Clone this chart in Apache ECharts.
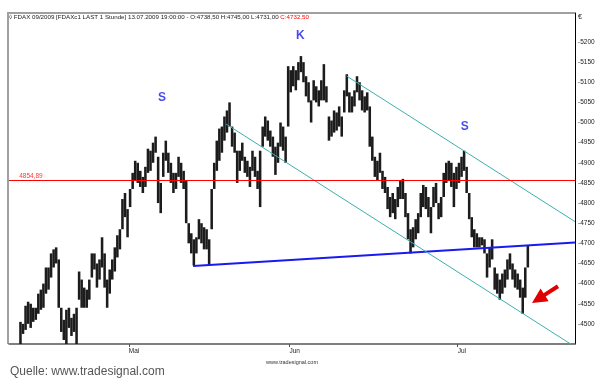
<!DOCTYPE html>
<html><head><meta charset="utf-8">
<script src="https://cdn.jsdelivr.net/npm/echarts@6/dist/echarts.min.js"></script>
<style>html,body{margin:0;padding:0;background:#fff}#c{width:612px;height:381px}</style>
</head><body><div id="c"></div>
<script>
// Slot = one third of a trading day (hourly FDAX bars grouped), April 2009 - 13.07.2009
const monthNames = ['Mai', 'Jun', 'Jul'];
const monthSlots = [47, 110, 176];
const yTicks = [4500, 4550, 4600, 4650, 4700, 4750, 4800, 4850, 4900, 4950, 5000, 5050, 5100, 5150, 5200];
const high = [4440,4445,4440,4448,4505,4500,4545,4555,4550,4540,4540,4575,4585,4600,4640,4640,4675,4685,4690,4660,
4540,4510,4535,4540,4515,4525,4540,4630,4610,4590,4585,4610,4675,4675,4650,4660,4715,4675,4610,4635,
4660,4690,4720,4735,4810,4825,4785,4835,4875,4905,4900,4880,4865,4890,4935,4930,4950,4965,4915,4850,
4925,4955,4925,4900,4875,4875,4915,4900,4880,4855,4750,4725,4710,4715,4760,4750,4740,4735,4710,4835,
4900,4955,4985,4990,5015,5030,5050,4990,4975,4930,4930,4950,4915,4905,4890,4930,4915,4880,4930,4990,
5015,5005,4980,4965,4940,4950,5000,4990,4965,5140,5130,5140,5130,5150,5165,5150,5115,5100,5055,5105,
5090,5080,5105,5145,5090,5015,5005,5030,5025,5040,5015,5080,5120,5075,5065,5080,5115,5100,5080,5065,
5075,5040,4965,4915,4905,4925,4880,4865,4840,4815,4825,4810,4840,4855,4860,4825,4775,4735,4740,4760,
4775,4825,4845,4840,4815,4790,4840,4850,4800,4815,4875,4900,4905,4900,4875,4890,4900,4915,4930,4890,
4825,4765,4735,4725,4715,4715,4710,4675,4690,4710,4640,4625,4610,4625,4635,4660,4675,4650,4635,4625,
4610,4590,4640,4695];
const low = [4410,4415,4405,4420,4450,4475,4485,4500,4490,4505,4510,4525,4535,4540,4575,4585,4615,4640,4650,4540,
4480,4460,4450,4490,4470,4480,4450,4560,4540,4540,4540,4560,4615,4635,4590,4610,4640,4590,4540,4575,
4610,4630,4665,4685,4735,4765,4715,4790,4835,4855,4850,4840,4825,4840,4875,4880,4900,4925,4800,4775,
4865,4905,4875,4850,4825,4835,4865,4850,4835,4750,4700,4675,4645,4675,4710,4700,4685,4685,4645,4735,
4835,4880,4905,4925,4955,4975,4990,4940,4925,4850,4880,4905,4875,4865,4840,4880,4865,4835,4790,4940,
4965,4955,4940,4915,4870,4900,4940,4930,4900,4990,5075,5090,5080,5105,5125,5100,5065,5050,5000,5055,
5050,5040,5055,5055,5050,4955,4965,4975,4980,4990,4965,5025,5065,5025,5025,5040,5075,5055,5030,5025,
5030,4940,4905,4865,4855,4875,4835,4825,4785,4765,4775,4760,4790,4810,4810,4765,4710,4675,4690,4710,
4725,4765,4790,4785,4765,4725,4790,4800,4760,4765,4815,4850,4855,4840,4790,4835,4850,4865,4880,4825,
4760,4715,4690,4690,4690,4695,4675,4615,4640,4660,4585,4575,4560,4575,4590,4610,4635,4610,4590,4585,
4565,4525,4565,4640];
const redLevel = 4854.89;
const redLabel = '4854,89';
const necklineX = [72.2, 222], necklineY = [4644, 4702];
const upperX = [132.4, 222], upperY = [5115.6, 4753.9];
const lowerX = [85.1, 220.8], lowerY = [4996.4, 4447.9];
const markNames = ['S', 'K', 'S'];
const markX = [60, 114.3, 178.8];
const markY = [5062, 5215, 4990];

const bars = high.map((h, i) => [i + 0.5, h, low[i]]);
const pts = (xs, ys) => xs.map((x, i) => [x, ys[i]]);

const chart = echarts.init(document.getElementById('c'), null, {renderer: 'canvas'});
const FONT = 'Liberation Sans';
const baseGraphics = [
  {id: 'top', type: 'line', shape: {x1: 8, y1: 13, x2: 575, y2: 13}, style: {stroke: '#a0a0a0', lineWidth: 2}},
  {id: 'left', type: 'line', shape: {x1: 8, y1: 12, x2: 8, y2: 344}, style: {stroke: '#a0a0a0', lineWidth: 2}},
  {id: 'hdr', type: 'text', left: 9, top: 14, style: {
    text: '{a|◊ FDAX 09/2009 [FDAXc1 LAST 1 Stunde] 13.07.2009 19:00:00 - O:4738,50 H:4745,00 L:4731,00 }{b|C:4732,50}',
    rich: {a: {fill: '#222', fontSize: 6.2, fontFamily: FONT}, b: {fill: '#ff0000', fontSize: 6.2, fontFamily: FONT}}}},
  {id: 'eur', type: 'text', left: 578, top: 14, style: {text: '€', fill: '#222', fontSize: 7, fontFamily: FONT}},
  {id: 'arrow', type: 'polygon', z: 100, shape: {points: [[532, 303], [540.6, 288.6], [543.5, 293.2], [556.9, 284.6], [559.1, 288.0], [545.7, 296.6], [548.6, 301.2]]},
    style: {fill: '#e00000'}},
  {id: 'wm', type: 'text', x: 292, y: 362, style: {text: 'www.tradesignal.com', fill: '#333', fontSize: 5.5, fontFamily: FONT, align: 'center', verticalAlign: 'middle'}},
  {id: 'src', type: 'text', left: 10, top: 366, style: {text: 'Quelle: www.tradesignal.com', fill: '#555', fontSize: 12, fontFamily: FONT}}
];
chart.setOption({
  animation: false,
  backgroundColor: '#fff',
  grid: {left: 9, top: 13, width: 566, height: 331},
  xAxis: {
    type: 'value', min: 0, max: 222,
    axisLine: {show: true, onZero: false, lineStyle: {color: '#555', width: 1.5}},
    axisTick: {show: true, customValues: monthSlots, length: 3, lineStyle: {color: '#555'}},
    axisLabel: {customValues: monthSlots, formatter: v => monthNames[monthSlots.indexOf(v)] || '',
      fontSize: 6.5, fontFamily: FONT, color: '#222', align: 'left', margin: 4},
    splitLine: {show: false}
  },
  yAxis: {
    type: 'value', position: 'right', min: 4450, max: 5272,
    axisLine: {show: true, onZero: false, lineStyle: {color: '#000', width: 1}},
    axisTick: {show: false},
    axisLabel: {customValues: yTicks, formatter: v => '-' + v, fontSize: 6.5, fontFamily: FONT, color: '#222', margin: 3},
    splitLine: {show: false}
  },
  series: [
    {type: 'scatter', data: [[4, redLevel]], symbolSize: 0, silent: true,
      label: {show: true, position: 'top', distance: 1, align: 'left', formatter: redLabel, color: '#ff0000',
        fontSize: 6.5, fontFamily: FONT}},
    {
      type: 'custom', name: 'FDAX', data: bars, silent: true, z: 3,
      renderItem: function (params, api) {
        const x = api.value(0);
        const p1 = api.coord([x, api.value(1)]);
        const p2 = api.coord([x, api.value(2)]);
        const w = api.size([1, 0])[0];
        const rect = echarts.graphic.clipRectByRect(
          {x: p1[0] - w * 0.5, y: p1[1], width: w, height: Math.max(1, p2[1] - p1[1])},
          {x: params.coordSys.x, y: params.coordSys.y, width: params.coordSys.width, height: params.coordSys.height});
        if (!rect) return null;
        return {type: 'rect', shape: rect, style: {fill: '#1c1c1c'}};
      }
    },
    {type: 'line', data: pts(necklineX, necklineY), showSymbol: false, silent: true, z: 4,
      lineStyle: {color: '#1a1af0', width: 2}},
    {type: 'line', data: pts(upperX, upperY), showSymbol: false, silent: true, z: 4,
      lineStyle: {color: '#3cb0b0', width: 1}},
    {type: 'line', data: pts(lowerX, lowerY), showSymbol: false, silent: true, z: 4,
      lineStyle: {color: '#3cb0b0', width: 1}},
    {type: 'scatter', data: markX.map((x, i) => ({value: [x, markY[i]], name: markNames[i]})),
      symbolSize: 0, silent: true,
      label: {show: true, position: 'inside', formatter: p => p.name, color: '#1a1ae6',
        fontSize: 12, fontWeight: 'bold', fontFamily: FONT}}
  ],
  graphic: baseGraphics
});
// horizontal red level line, placed through the y-axis scale and snapped to a crisp pixel row
const ly = Math.round(chart.convertToPixel({yAxisIndex: 0}, redLevel)) - 0.5;
const lx0 = chart.convertToPixel({xAxisIndex: 0}, 0);
const lx1 = chart.convertToPixel({xAxisIndex: 0}, 222);
chart.setOption({graphic: baseGraphics.concat([
  {id: 'level', type: 'line', z: 100, shape: {x1: lx0, y1: ly, x2: lx1, y2: ly}, style: {stroke: '#ff0000', lineWidth: 1}}
])});
</script></body></html>
